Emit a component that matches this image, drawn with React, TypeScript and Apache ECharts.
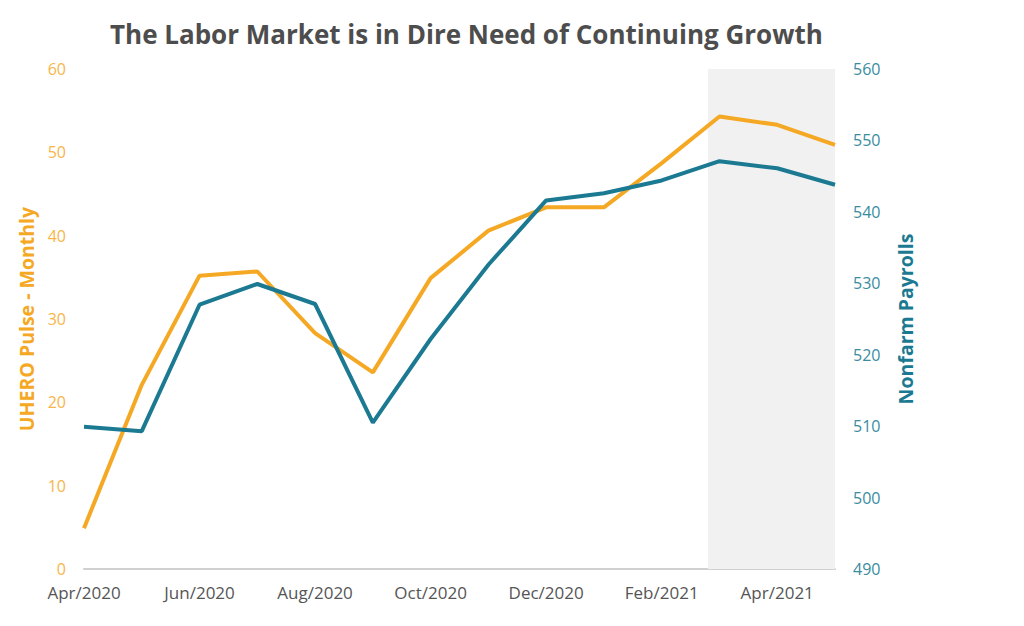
import React, { useEffect, useRef } from "react";
import * as echarts from "echarts";

const months = [
  "Apr/2020", "May/2020", "Jun/2020", "Jul/2020", "Aug/2020", "Sep/2020", "Oct/2020",
  "Nov/2020", "Dec/2020", "Jan/2021", "Feb/2021", "Mar/2021", "Apr/2021", "May/2021",
];
const uheroPulse = [4.9, 22.1, 35.2, 35.7, 28.3, 23.6, 34.9, 40.6, 43.4, 43.4, 48.7, 54.3, 53.3, 50.9];
const nonfarmPayrolls = [509.9, 509.3, 527.0, 529.9, 527.1, 510.5, 522.2, 532.6, 541.6, 542.6, 544.4, 547.1, 546.1, 543.8];
const shadeRange = [10.8, 13];

const ORANGE = "#F5A823";
const ORANGE_LABEL = "#F7B54A";
const TEAL = "#1B7A92";
const TEAL_LABEL = "#3A8CA0";
const FONT = "'Open Sans', sans-serif";

export default function App() {
  const ref = useRef<HTMLDivElement>(null);
  useEffect(() => {
    if (!ref.current) return;
    const chart = echarts.init(ref.current, undefined, { renderer: "svg" });
    chart.setOption({
      animation: false,
      backgroundColor: "#ffffff",
      title: {
        text: "The Labor Market is in Dire Need of Continuing Growth",
        left: 105,
        top: 16,
        textStyle: { fontFamily: FONT, fontWeight: "bold", fontSize: 26, color: "#4D4D4D" },
      },
      grid: { left: 84, right: 189, top: 69, bottom: 57 },
      xAxis: [
        {
          type: "category",
          data: months,
          boundaryGap: false,
          axisLine: { show: true, lineStyle: { color: "#D0D0D0", width: 2 } },
          axisTick: { show: false },
          axisLabel: { interval: 1, color: "#555555", fontFamily: FONT, fontSize: 17, margin: 15 },
          splitLine: { show: false },
        },
        {
          type: "value",
          min: 0,
          max: 13,
          show: false,
        },
      ],
      yAxis: [
        {
          type: "value",
          min: 0,
          max: 60,
          interval: 10,
          position: "left",
          name: "UHERO Pulse - Monthly",
          nameLocation: "middle",
          nameGap: 48,
          nameTextStyle: { color: ORANGE, fontFamily: FONT, fontWeight: "bold", fontSize: 19.5 },
          axisLine: { show: false },
          axisTick: { show: false },
          splitLine: { show: false },
          axisLabel: { color: ORANGE_LABEL, fontFamily: FONT, fontSize: 16, margin: 18 },
        },
        {
          type: "value",
          min: 490,
          max: 560,
          interval: 10,
          position: "right",
          name: "Nonfarm Payrolls",
          nameLocation: "middle",
          nameGap: 60,
          nameTextStyle: { color: TEAL, fontFamily: FONT, fontWeight: "bold", fontSize: 19.5 },
          axisLine: { show: false },
          axisTick: { show: false },
          splitLine: { show: false },
          axisLabel: { color: TEAL_LABEL, fontFamily: FONT, fontSize: 16, margin: 18 },
        },
      ],
      series: [
        {
          type: "line",
          xAxisIndex: 1,
          yAxisIndex: 0,
          data: [],
          silent: true,
          z: 0,
          markArea: {
            silent: true,
            itemStyle: { color: "#F1F1F1" },
            data: [[{ xAxis: shadeRange[0] }, { xAxis: shadeRange[1] }]],
          },
        },
        {
          name: "UHERO Pulse - Monthly",
          type: "line",
          yAxisIndex: 0,
          data: uheroPulse,
          showSymbol: false,
          lineStyle: { color: ORANGE, width: 4 },
          itemStyle: { color: ORANGE },
          z: 3,
        },
        {
          name: "Nonfarm Payrolls",
          type: "line",
          yAxisIndex: 1,
          data: nonfarmPayrolls,
          showSymbol: false,
          lineStyle: { color: TEAL, width: 4 },
          itemStyle: { color: TEAL },
          z: 4,
        },
      ],
    });
    return () => chart.dispose();
  }, []);
  return <div ref={ref} style={{ width: 1024, height: 626, position: "absolute", left: 0, top: 0 }} />;
}
